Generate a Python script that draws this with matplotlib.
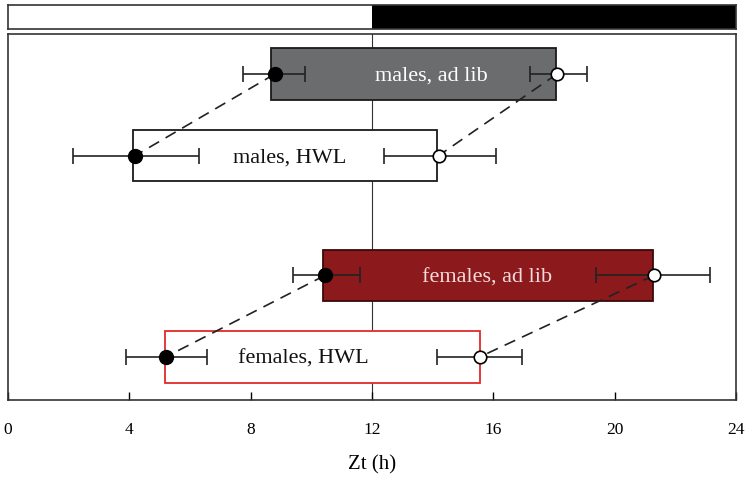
import matplotlib
matplotlib.use("Agg")
import matplotlib.pyplot as plt
from matplotlib.patches import Rectangle

# Groups, top to bottom
groups = ["males, ad lib", "males, HWL", "females, ad lib", "females, HWL"]
row_y = [4.47, 3.47, 2.0, 1.0]

# Activity onset (filled marker) and offset (open marker), Zt hours
onset = [8.8, 4.2, 10.45, 5.2]
onset_err_lo = [7.75, 2.15, 9.4, 3.9]
onset_err_hi = [9.8, 6.3, 11.6, 6.55]
offset = [18.1, 14.2, 21.3, 15.55]
offset_err_lo = [17.2, 12.4, 19.4, 14.15]
offset_err_hi = [19.1, 16.1, 23.15, 16.95]

# Box extents
box_start = [8.68, 4.13, 10.37, 5.18]
box_end = [18.06, 14.13, 21.26, 15.55]

face_colors = ["#6a6c6e", "white", "#8c1a1c", "white"]
edge_colors = ["#1a1a1a", "#1a1a1a", "#3a0a0a", "#e02a2a"]
text_colors = ["white", "#111111", "#f4dcdc", "#111111"]
text_x = [13.95, 9.3, 15.8, 9.75]

xticks = [0, 4, 8, 12, 16, 20, 24]

W, H = 745, 478
fig = plt.figure(figsize=(W / 100, H / 100), dpi=100)
serif = ["Liberation Serif", "DejaVu Serif"]

# Light/dark bar
axb = fig.add_axes([8 / W, 1 - 29 / H, 728 / W, 24 / H])
axb.set_xlim(0, 24)
axb.set_ylim(0, 1)
axb.add_patch(Rectangle((0, 0), 12, 1, facecolor="white", edgecolor="none"))
axb.add_patch(Rectangle((12, 0), 12, 1, facecolor="black", edgecolor="none"))
axb.set_xticks([])
axb.set_yticks([])
for s in axb.spines.values():
    s.set_color("#333333")
    s.set_linewidth(1.2)

# Main panel
ax = fig.add_axes([8 / W, 1 - 400 / H, 728 / W, 366 / H])
ax.set_xlim(0, 24)
ax.set_ylim(0.472, 4.96)
box_h = 0.63

ax.axvline(12, color="#333333", lw=0.8, zorder=1)

for i in range(len(groups)):
    y = row_y[i]
    ax.add_patch(Rectangle((box_start[i], y - box_h / 2), box_end[i] - box_start[i], box_h,
                           facecolor=face_colors[i], edgecolor=edge_colors[i], lw=1.3, zorder=2))
    ax.text(text_x[i], y, groups[i], color=text_colors[i], fontsize=16, family=serif,
            ha="center", va="center_baseline", zorder=5)

# Dashed connectors between ad lib and HWL of each sex
for a, b in [(0, 1), (2, 3)]:
    ax.plot([onset[a], onset[b]], [row_y[a], row_y[b]], ls=(0, (7, 4.5)), color="#222222", lw=1.2, zorder=3)
    ax.plot([offset[a], offset[b]], [row_y[a], row_y[b]], ls=(0, (7, 4.5)), color="#222222", lw=1.2, zorder=3)

for i in range(len(groups)):
    y = row_y[i]
    ax.errorbar([onset[i]], [y], xerr=[[onset[i] - onset_err_lo[i]], [onset_err_hi[i] - onset[i]]],
                fmt="o", ms=10, mfc="black", mec="black", ecolor="#222222", elinewidth=1.2,
                capsize=6, capthick=1.2, zorder=4)
    ax.errorbar([offset[i]], [y], xerr=[[offset[i] - offset_err_lo[i]], [offset_err_hi[i] - offset[i]]],
                fmt="o", ms=9, mfc="white", mec="black", mew=1.2, ecolor="#222222", elinewidth=1.2,
                capsize=6, capthick=1.2, zorder=4)

ax.set_xticks(xticks)
ax.set_xticklabels([str(t) for t in xticks], family=serif, fontsize=12.5)
ax.tick_params(axis="x", direction="in", length=6, width=1, pad=16)
ax.set_yticks([])
for s in ax.spines.values():
    s.set_color("#333333")
    s.set_linewidth(1.2)
ax.set_xlabel("Zt (h)", family=serif, fontsize=15, labelpad=12)

fig.savefig("out.png", dpi=100)
